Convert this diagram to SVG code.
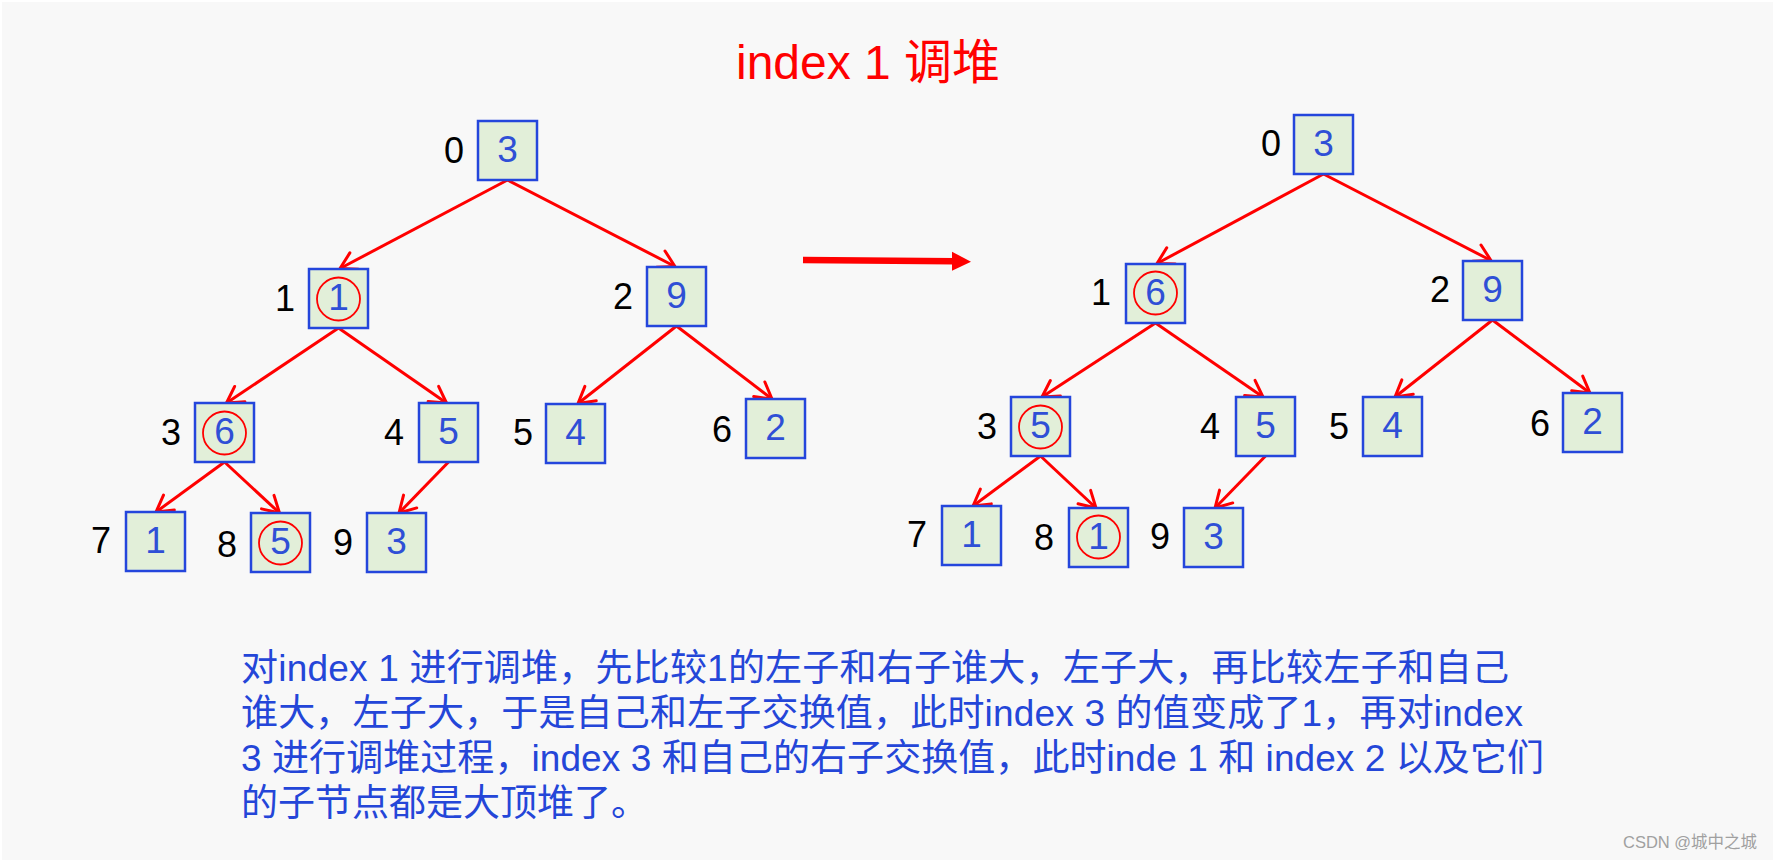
<svg xmlns="http://www.w3.org/2000/svg" width="1775" height="862" viewBox="0 0 1775 862">
<style>
.box{fill:#e2efd9;stroke:#2446dc;stroke-width:2.5}
.val{font-family:"Liberation Sans","Noto Sans CJK SC",sans-serif;font-size:37px;fill:#2f4fd6;text-anchor:middle}
.idx{font-family:"Liberation Sans","Noto Sans CJK SC",sans-serif;font-size:36px;fill:#000;text-anchor:end}
.ring{fill:none;stroke:#ff0000;stroke-width:1.8}
.edge{stroke:#ff0000;stroke-width:3;fill:none;marker-end:url(#arr)}
.title{font-family:"Liberation Sans","Noto Sans CJK SC",sans-serif;font-size:48px;fill:#ff0000}
.para{font-family:"Liberation Sans","Noto Sans CJK SC",sans-serif;font-size:37px;fill:#2446d8}
.wm{font-family:"Liberation Sans","Noto Sans CJK SC",sans-serif;font-size:16.5px;fill:#a0a0a0}
</style>
<defs>
<marker id="arr" markerUnits="userSpaceOnUse" viewBox="-20 -12 24 24" markerWidth="24" markerHeight="24" refX="0" refY="0" orient="auto" overflow="visible">
<path d="M-16,-9.2 L0,0 L-16,9.2" fill="none" stroke="#ff0000" stroke-width="3" stroke-linejoin="round" stroke-linecap="round"/>
</marker>
</defs>
<rect x="0" y="0" width="1775" height="862" fill="#ffffff"/>
<rect x="2" y="2" width="1771" height="858" fill="#f8f8f8"/>
<text class="title" x="736" y="79">index 1 调堆</text>

<g id="connectors">
<line class="edge" x1="507.5" y1="180" x2="340" y2="268.5"/>
<line class="edge" x1="507.5" y1="180" x2="675" y2="266.5"/>
<line class="edge" x1="338.5" y1="328" x2="226.5" y2="403"/>
<line class="edge" x1="338.5" y1="328" x2="446.5" y2="403"/>
<line class="edge" x1="676.5" y1="326" x2="578" y2="403.5"/>
<line class="edge" x1="676.5" y1="326" x2="772" y2="399"/>
<line class="edge" x1="224.5" y1="462" x2="156" y2="512"/>
<line class="edge" x1="224.5" y1="462" x2="279.5" y2="513"/>
<line class="edge" x1="448.5" y1="462" x2="399" y2="513"/>

<line class="edge" x1="1323.5" y1="174" x2="1157" y2="263.5"/>
<line class="edge" x1="1323.5" y1="174" x2="1491" y2="260.5"/>
<line class="edge" x1="1155.5" y1="323" x2="1042" y2="397"/>
<line class="edge" x1="1155.5" y1="323" x2="1263" y2="397"/>
<line class="edge" x1="1492.5" y1="320" x2="1395" y2="397"/>
<line class="edge" x1="1492.5" y1="320" x2="1590" y2="393"/>
<line class="edge" x1="1040.5" y1="456" x2="973" y2="506"/>
<line class="edge" x1="1040.5" y1="456" x2="1096" y2="508"/>
<line class="edge" x1="1265.5" y1="456" x2="1215" y2="508"/>

<g id="big-arrow">
<line x1="803" y1="260" x2="954" y2="261.3" stroke="#ff0000" stroke-width="6.5"/>
<polygon points="952,251.7 971,261.7 952,270.7" fill="#ff0000"/>
</g>
</g>

<g id="L0"><rect class="box" x="478" y="121" width="59" height="59"/><text class="val" x="507.5" y="162">3</text><text class="idx" x="464" y="163">0</text></g>
<g id="L1"><rect class="box" x="309" y="269" width="59" height="59"/><circle class="ring" cx="338.5" cy="299" r="21.5"/><text class="val" x="338.5" y="310">1</text><text class="idx" x="295" y="311">1</text></g>
<g id="L2"><rect class="box" x="647" y="267" width="59" height="59"/><text class="val" x="676.5" y="308">9</text><text class="idx" x="633" y="309">2</text></g>
<g id="L3"><rect class="box" x="195" y="403" width="59" height="59"/><circle class="ring" cx="224.5" cy="433" r="21.5"/><text class="val" x="224.5" y="444">6</text><text class="idx" x="181" y="445">3</text></g>
<g id="L4"><rect class="box" x="419" y="403" width="59" height="59"/><text class="val" x="448.5" y="444">5</text><text class="idx" x="404" y="445">4</text></g>
<g id="L5"><rect class="box" x="546" y="404" width="59" height="59"/><text class="val" x="575.5" y="445">4</text><text class="idx" x="533" y="445">5</text></g>
<g id="L6"><rect class="box" x="746" y="399" width="59" height="59"/><text class="val" x="775.5" y="440">2</text><text class="idx" x="732" y="442">6</text></g>
<g id="L7"><rect class="box" x="126" y="512" width="59" height="59"/><text class="val" x="155.5" y="553">1</text><text class="idx" x="111" y="553">7</text></g>
<g id="L8"><rect class="box" x="251" y="513" width="59" height="59"/><circle class="ring" cx="280.5" cy="543" r="21.5"/><text class="val" x="280.5" y="554">5</text><text class="idx" x="237" y="557">8</text></g>
<g id="L9"><rect class="box" x="367" y="513" width="59" height="59"/><text class="val" x="396.5" y="554">3</text><text class="idx" x="353" y="555">9</text></g>

<g id="R0"><rect class="box" x="1294" y="115" width="59" height="59"/><text class="val" x="1323.5" y="156">3</text><text class="idx" x="1281" y="156">0</text></g>
<g id="R1"><rect class="box" x="1126" y="264" width="59" height="59"/><circle class="ring" cx="1155.5" cy="293" r="21.5"/><text class="val" x="1155.5" y="305">6</text><text class="idx" x="1111" y="305">1</text></g>
<g id="R2"><rect class="box" x="1463" y="261" width="59" height="59"/><text class="val" x="1492.5" y="302">9</text><text class="idx" x="1450" y="302">2</text></g>
<g id="R3"><rect class="box" x="1011" y="397" width="59" height="59"/><circle class="ring" cx="1040.5" cy="427" r="21.5"/><text class="val" x="1040.5" y="438">5</text><text class="idx" x="997" y="439">3</text></g>
<g id="R4"><rect class="box" x="1236" y="397" width="59" height="59"/><text class="val" x="1265.5" y="438">5</text><text class="idx" x="1220" y="439">4</text></g>
<g id="R5"><rect class="box" x="1363" y="397" width="59" height="59"/><text class="val" x="1392.5" y="438">4</text><text class="idx" x="1349" y="439">5</text></g>
<g id="R6"><rect class="box" x="1563" y="393" width="59" height="59"/><text class="val" x="1592.5" y="434">2</text><text class="idx" x="1550" y="436">6</text></g>
<g id="R7"><rect class="box" x="942" y="506" width="59" height="59"/><text class="val" x="971.5" y="547">1</text><text class="idx" x="927" y="547">7</text></g>
<g id="R8"><rect class="box" x="1069" y="508" width="59" height="59"/><circle class="ring" cx="1098.5" cy="537" r="21.5"/><text class="val" x="1098.5" y="549">1</text><text class="idx" x="1054" y="550">8</text></g>
<g id="R9"><rect class="box" x="1184" y="508" width="59" height="59"/><text class="val" x="1213.5" y="549">3</text><text class="idx" x="1170" y="549">9</text></g>

<g id="description">
<text class="para" x="241" y="681" textLength="1268" lengthAdjust="spacing">对index 1 进行调堆，先比较1的左子和右子谁大，左子大，再比较左子和自己</text>
<text class="para" x="241" y="726" textLength="1282" lengthAdjust="spacing">谁大，左子大，于是自己和左子交换值，此时index 3 的值变成了1，再对index</text>
<text class="para" x="241" y="771" textLength="1303" lengthAdjust="spacing">3 进行调堆过程，index 3 和自己的右子交换值，此时inde 1 和 index 2 以及它们</text>
<text class="para" x="241" y="816">的子节点都是大顶堆了。</text>
</g>
<text class="wm" x="1623" y="848">CSDN @城中之城</text>
</svg>
